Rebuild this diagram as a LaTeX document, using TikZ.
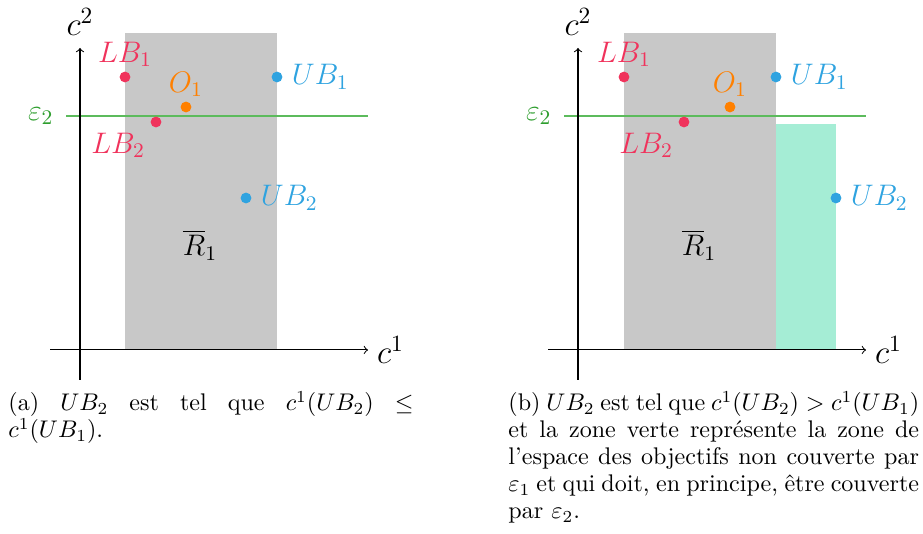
\documentclass[tikz,border=0pt]{standalone}
\usepackage{fix-cm}
\usepackage{amsmath}
\usepackage{xcolor}
\usepackage{tikz}
\usetikzlibrary{positioning}
\definecolor{lbred}{HTML}{F0335C}
\definecolor{optorange}{HTML}{FF8000}
\definecolor{ubblue}{HTML}{2FA3E0}
\definecolor{epsline}{HTML}{5CBB5C}
\definecolor{epstext}{HTML}{2E9E2E}
\definecolor{zonegray}{HTML}{C8C8C8}
\definecolor{zonegreen}{HTML}{A5EDD5}
\newcommand{\fullline}[2]{\makebox[#1][s]{#2}}
\begin{document}
\begin{tikzpicture}[
    x=0.4444pt, y=0.4444pt,
    >=to,
    axis/.style={->, line width=0.45pt, draw=black},
    epsfront/.style={line width=0.8pt, draw=epsline},
    graybox/.style={fill=zonegray, draw=none},
    greenbox/.style={fill=zonegreen, draw=none},
    dot/.style={circle, inner sep=0pt, minimum size=4.8pt},
    lbdot/.style={dot, fill=lbred},
    optdot/.style={dot, fill=optorange},
    ubdot/.style={dot, fill=ubblue},
    lbl/.style={font=\fontsize{13.2pt}{16pt}\selectfont},
    axlbl/.style={font=\fontsize{14.8pt}{18pt}\selectfont},
    capline/.style={anchor=base west, inner sep=0pt, font=\fontsize{10.7pt}{12pt}\selectfont}
]
\useasboundingbox (0,0) rectangle (923,534);

% ---- left panel ----
\fill[graybox] (125,184) rectangle (277,501);
\coordinate (epsLa) at (66,418);
\coordinate (epsLb) at (368,418);
\draw[epsfront] (epsLa) -- (epsLb);
\node[lbl, text=epstext, left=2pt of epsLa] {$\varepsilon_2$};

\coordinate (xL0) at (50,184);
\coordinate (xL1) at (368,184);
\coordinate (yL0) at (80,154);
\coordinate (yL1) at (80,486);
\draw[axis] (xL0) -- (xL1);
\draw[axis] (yL0) -- (yL1);
\node[axlbl, right=0.5pt of xL1] {$c^1$};
\node[axlbl, above=2pt of yL1] {$c^2$};

\node[lbdot] (lb1L) at (125,457) {};
\node[optdot] (o1L) at (186,427) {};
\node[lbdot] (lb2L) at (156,412) {};
\node[ubdot] (ub1L) at (277,457) {};
\node[ubdot] (ub2L) at (246,336) {};
\node[lbl, text=lbred, above=-1.5pt of lb1L] {$LB_1$};
\node[lbl, text=optorange, above=-1.5pt of o1L] {$O_1$};
\node[lbl, text=lbred, below left=-0.5pt and -0.5pt of lb2L] {$LB_2$};
\node[lbl, text=ubblue, right=0.5pt of ub1L] {$UB_1$};
\node[lbl, text=ubblue, right=0.5pt of ub2L] {$UB_2$};
\node[lbl] (rL) at (200,289) {$\overline{R}_1$};

% ---- right panel ----
\fill[graybox] (624,184) rectangle (776,501);
\fill[greenbox] (776,184) rectangle (836,410);
\coordinate (epsRa) at (564,418);
\coordinate (epsRb) at (866,418);
\draw[epsfront] (epsRa) -- (epsRb);
\node[lbl, text=epstext, left=2pt of epsRa] {$\varepsilon_2$};

\coordinate (xR0) at (548,184);
\coordinate (xR1) at (866,184);
\coordinate (yR0) at (578,154);
\coordinate (yR1) at (578,486);
\draw[axis] (xR0) -- (xR1);
\draw[axis] (yR0) -- (yR1);
\node[axlbl, right=0.5pt of xR1] {$c^1$};
\node[axlbl, above=2pt of yR1] {$c^2$};

\node[lbdot] (lb1R) at (624,457) {};
\node[optdot] (o1R) at (730,427) {};
\node[lbdot] (lb2R) at (684,412) {};
\node[ubdot] (ub1R) at (776,457) {};
\node[ubdot] (ub2R) at (836,336) {};
\node[lbl, text=lbred, above=-1.5pt of lb1R] {$LB_1$};
\node[lbl, text=optorange, above=-1.5pt of o1R] {$O_1$};
\node[lbl, text=lbred, below left=-0.5pt and -0.5pt of lb2R] {$LB_2$};
\node[lbl, text=ubblue, right=0.5pt of ub1R] {$UB_1$};
\node[lbl, text=ubblue, right=0.5pt of ub2R] {$UB_2$};
\node[lbl] (rR) at (699,289) {$\overline{R}_1$};

% ---- captions (one node per line, baselines 27px apart) ----
\node[capline] (capA1) at (8,123) {\fullline{180pt}{(a) $UB_2$ est tel que $c^1(UB_2)$ $\leq$}};
\node[capline] (capA2) at (8,96) {$c^1(UB_1)$.};

\node[capline] (capB1) at (508,123) {\fullline{182.5pt}{(b) $UB_2$ est tel que $c^1(UB_2) > c^1(UB_1)$}};
\node[capline] (capB2) at (508,96) {\fullline{182.5pt}{et la zone verte repr\'esente la zone de}};
\node[capline] (capB3) at (508,69) {\fullline{182.5pt}{l'espace des objectifs non couverte par}};
\node[capline] (capB4) at (508,42) {\fullline{182.5pt}{$\varepsilon_1$ et qui doit, en principe, \^etre couverte}};
\node[capline] (capB5) at (508,15) {par $\varepsilon_2$.};

\end{tikzpicture}
\end{document}
